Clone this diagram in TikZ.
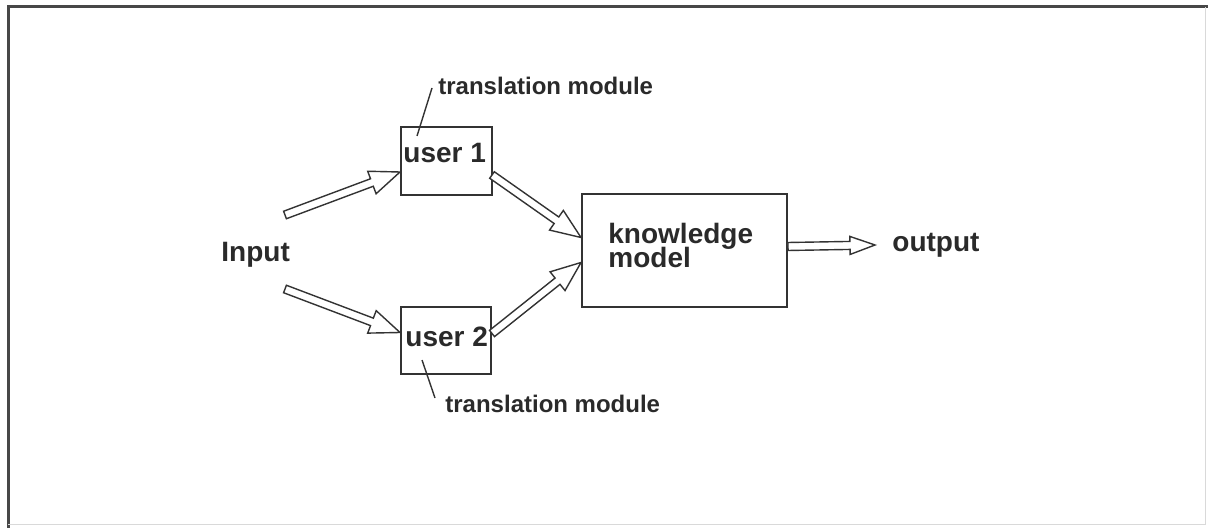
\documentclass[tikz,border=0pt]{standalone}
\usepackage{fontspec}
\setmainfont{Liberation Sans}
\usetikzlibrary{calc}
\definecolor{ink}{HTML}{333333}
\definecolor{txt}{HTML}{2A2A2A}

% hollow block arrow: #1 tail, #2 tip, #3 half shaft width, #4 half head width, #5 head length
\newcommand\hollowarrow[5]{%
  \coordinate (ha-base) at ($(#2)!#5!(#1)$);
  \draw[hollow line]
    ($(#1)!#3!90:(#2)$) -- ($(ha-base)!#3!90:(#2)$) -- ($(ha-base)!#4!90:(#2)$)
    -- (#2)
    -- ($(ha-base)!#4!-90:(#2)$) -- ($(ha-base)!#3!-90:(#2)$) -- ($(#1)!#3!-90:(#2)$) -- cycle;
}

\begin{document}
\begin{tikzpicture}[x=0.5pt, y=-0.5pt,
  box/.style={draw=ink, line width=1pt, inner sep=0pt, anchor=north west},
  hollow line/.style={draw=ink, line width=0.7pt, fill=white, line join=miter},
  big/.style={font=\fontsize{14}{12}\selectfont\bfseries, text=txt, inner sep=0pt, anchor=base west},
  small/.style={font=\fontsize{12}{14}\selectfont\bfseries, text=txt, inner sep=0pt, anchor=base west},
  leader/.style={draw=ink, line width=0.7pt}]
  \useasboundingbox (0,0) rectangle (1208,528);
  \fill[white] (0,0) rectangle (1208,528);

  % outer frame
  \draw[line width=1.5pt, draw=ink!90] (8,528) -- (8,7) -- (1208,7);
  \draw[line width=0.5pt, draw=black!15] (1205,7) -- (1205,524) -- (8,524);

  % boxes
  \node[box, minimum width=45.5pt, minimum height=34pt] (u1) at (400,126) {};
  \node[box, minimum width=45pt, minimum height=33.5pt] (u2) at (400,306) {};
  \node[box, minimum width=102.5pt, minimum height=56.5pt] (km) at (581,193) {};

  % texts
  \node[big] (u1t) at (403,163) {user 1};
  \node[big] (u2t) at (405,347) {user 2};
  \node[big, align=left] (kmt) at (608,268) {knowledge\\[-2pt]model};
  \node[big] (in) at (221,262) {Input};
  \node[big] (out) at (892,252) {output};
  \node[small] (tm1) at (438,95) {translation module};
  \node[small] (tm2) at (445,413) {translation module};

  % leader lines from the labels to the boxes
  \coordinate (l1a) at (432,88);
  \coordinate (l1b) at (417,136);
  \coordinate (l2a) at (422,360);
  \coordinate (l2b) at (435,398);
  \draw[leader] (l1a) -- (l1b);
  \draw[leader] (l2a) -- (l2b);

  % arrow end points
  \coordinate (a1s) at (285,215);
  \coordinate (a1e) at ($(u1.west)+(0,11)$);
  \coordinate (a2s) at (285,289);
  \coordinate (a2e) at ($(u2.west)+(0,-8)$);
  \coordinate (a3s) at ($(u1.east)+(-1,14)$);
  \coordinate (a3e) at ($(km.west)+(0,-13)$);
  \coordinate (a4s) at ($(u2.east)+(0,-7)$);
  \coordinate (a4e) at ($(km.west)+(0,12)$);
  \coordinate (a5s) at ($(km.east)+(0,-4)$);
  \coordinate (a5e) at (875,245);

  \hollowarrow{a1s}{a1e}{2pt}{6pt}{15pt}
  \hollowarrow{a2s}{a2e}{2pt}{6pt}{15pt}
  \hollowarrow{a3s}{a3e}{2pt}{6pt}{15pt}
  \hollowarrow{a4s}{a4e}{2pt}{6pt}{15pt}
  \hollowarrow{a5s}{a5e}{2pt}{4.5pt}{12.5pt}
\end{tikzpicture}
\end{document}
